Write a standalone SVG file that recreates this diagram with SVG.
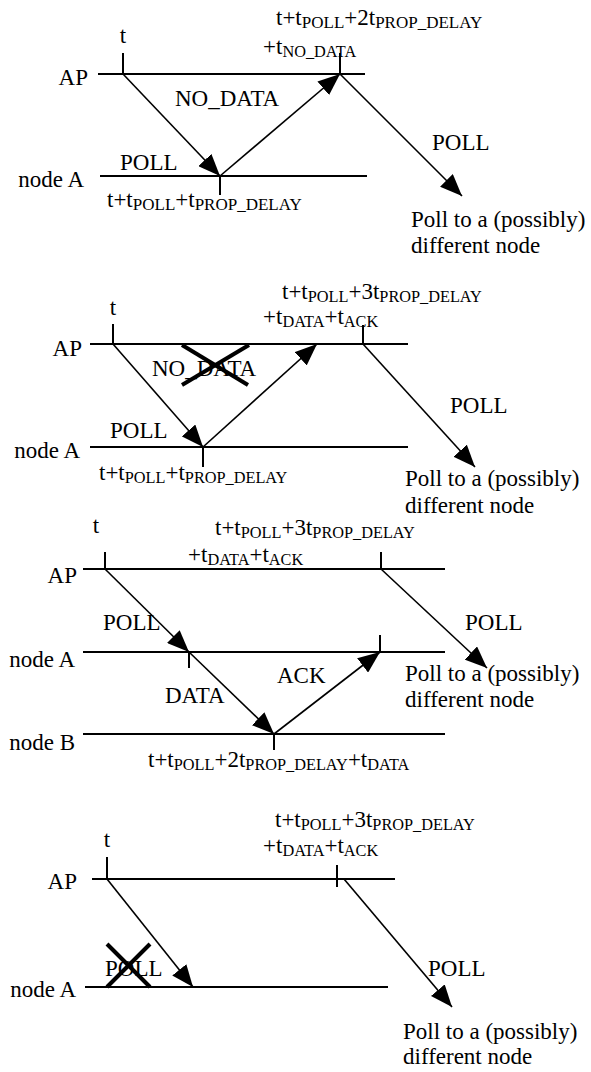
<svg xmlns="http://www.w3.org/2000/svg" width="591" height="1072" viewBox="0 0 591 1072" font-family="Liberation Serif, Times New Roman, serif">
<defs>
<style>
text{font-family:"Liberation Serif","Times New Roman",serif;font-size:23px;fill:#000}
.s{font-size:16.3px}
.s1{font-size:17px}
.e{text-anchor:end}
.c{text-anchor:middle}
.ln{stroke:#000;stroke-width:2;fill:none}
.ar{stroke:#000;stroke-width:1.6;fill:none;marker-end:url(#ah)}
.x{stroke:#000;stroke-width:4;fill:none}
</style>
<marker id="ah" markerUnits="userSpaceOnUse" markerWidth="22" markerHeight="18" refX="22" refY="9" orient="auto">
<path d="M0,0 L22,9 L0,18 z" fill="#000"/>
</marker>
</defs>
<rect width="591" height="1072" fill="#fff"/>

<!-- Panel 1 -->
<g id="p1-ap">
<text x="88" y="85" class="e">AP</text>
<line class="ln" x1="98" y1="74" x2="365" y2="74"/>
<line class="ln" x1="123" y1="53" x2="123" y2="74"/>
<line class="ln" x1="340" y1="53" x2="340" y2="74"/>
<text x="123" y="43" class="c">t</text>
<text x="276" y="25">t+t<tspan class="s1" dy="3">POLL</tspan><tspan dy="-3">+2t</tspan><tspan class="s1" dy="3">PROP_DELAY</tspan></text>
<text x="263" y="54">+t<tspan class="s" dy="3">NO_DATA</tspan></text>
</g>
<g id="p1-nodeA">
<text x="84" y="187" class="e">node A</text>
<line class="ln" x1="100" y1="176" x2="367" y2="176"/>
<line class="ln" x1="220" y1="176" x2="220" y2="195"/>
<text x="107" y="207">t+t<tspan class="s1" dy="3">POLL</tspan><tspan dy="-3">+t</tspan><tspan class="s1" dy="3">PROP_DELAY</tspan></text>
</g>
<g id="p1-other">
<text x="411" y="227">Poll to a (possibly)</text>
<text x="411" y="253">different node</text>
</g>
<g id="p1-connectors">
<line class="ar" x1="123" y1="74" x2="220" y2="176"/>
<line class="ar" x1="220" y1="176" x2="340" y2="74"/>
<line class="ar" x1="340" y1="74" x2="462" y2="196"/>
<text x="175" y="106">NO_DATA</text>
<text x="120" y="170">POLL</text>
<text x="432" y="150">POLL</text>
</g>

<!-- Panel 2 -->
<g id="p2-ap">
<text x="82" y="356" class="e">AP</text>
<line class="ln" x1="90" y1="344" x2="408" y2="344"/>
<line class="ln" x1="113" y1="324" x2="113" y2="344"/>
<line class="ln" x1="363" y1="325" x2="363" y2="344"/>
<text x="113" y="315" class="c">t</text>
<text x="282" y="299">t+t<tspan class="s" dy="3">POLL</tspan><tspan dy="-3">+3t</tspan><tspan class="s" dy="3">PROP_DELAY</tspan></text>
<text x="263" y="324">+t<tspan class="s" dy="3">DATA</tspan><tspan dy="-3">+t</tspan><tspan class="s" dy="3">ACK</tspan></text>
</g>
<g id="p2-nodeA">
<text x="80" y="458" class="e">node A</text>
<line class="ln" x1="90" y1="447" x2="408" y2="447"/>
<line class="ln" x1="203" y1="447" x2="203" y2="467"/>
<text x="99" y="480">t+t<tspan class="s" dy="3">POLL</tspan><tspan dy="-3">+t</tspan><tspan class="s" dy="3">PROP_DELAY</tspan></text>
</g>
<g id="p2-other">
<text x="405" y="486">Poll to a (possibly)</text>
<text x="405" y="513">different node</text>
</g>
<g id="p2-connectors">
<line class="ar" x1="113" y1="344" x2="203" y2="447"/>
<line class="ar" x1="203" y1="447" x2="317" y2="344"/>
<line class="ar" x1="363" y1="344" x2="475" y2="467"/>
<text x="152" y="376">NO_DATA</text>
<line class="x" x1="182" y1="345" x2="248" y2="385"/>
<line class="x" x1="249" y1="345" x2="182" y2="385"/>
<text x="110" y="438">POLL</text>
<text x="450" y="413">POLL</text>
</g>

<!-- Panel 3 -->
<g id="p3-ap">
<text x="77" y="583" class="e">AP</text>
<line class="ln" x1="83" y1="569" x2="445" y2="569"/>
<line class="ln" x1="105" y1="552" x2="105" y2="569"/>
<line class="ln" x1="381" y1="552" x2="381" y2="569"/>
<text x="96" y="533" class="c">t</text>
<text x="215" y="535">t+t<tspan class="s" dy="3">POLL</tspan><tspan dy="-3">+3t</tspan><tspan class="s" dy="3">PROP_DELAY</tspan></text>
<text x="188" y="562">+t<tspan class="s" dy="3">DATA</tspan><tspan dy="-3">+t</tspan><tspan class="s" dy="3">ACK</tspan></text>
</g>
<g id="p3-nodeA">
<text x="75" y="667" class="e">node A</text>
<line class="ln" x1="83" y1="652" x2="445" y2="652"/>
<line class="ln" x1="189" y1="652" x2="189" y2="668"/>
<line class="ln" x1="380" y1="635" x2="380" y2="652"/>
</g>
<g id="p3-nodeB">
<text x="75" y="750" class="e">node B</text>
<line class="ln" x1="83" y1="734" x2="445" y2="734"/>
<line class="ln" x1="274" y1="734" x2="274" y2="750"/>
<text x="148" y="767">t+t<tspan class="s" dy="3">POLL</tspan><tspan dy="-3">+2t</tspan><tspan class="s" dy="3">PROP_DELAY</tspan><tspan dy="-3">+t</tspan><tspan class="s" dy="3">DATA</tspan></text>
</g>
<g id="p3-other">
<text x="405" y="681">Poll to a (possibly)</text>
<text x="405" y="707">different node</text>
</g>
<g id="p3-connectors">
<line class="ar" x1="105" y1="569" x2="189" y2="652"/>
<line class="ar" x1="189" y1="652" x2="274" y2="734"/>
<line class="ar" x1="274" y1="734" x2="380" y2="652"/>
<line class="ar" x1="381" y1="569" x2="487" y2="668"/>
<text x="103" y="630">POLL</text>
<text x="165" y="703">DATA</text>
<text x="277" y="683">ACK</text>
<text x="465" y="630">POLL</text>
</g>

<!-- Panel 4 -->
<g id="p4-ap">
<text x="77" y="889" class="e">AP</text>
<line class="ln" x1="92" y1="879" x2="395" y2="879"/>
<line class="ln" x1="107" y1="857" x2="107" y2="879"/>
<line class="ln" x1="337" y1="865" x2="337" y2="887"/>
<text x="107" y="847" class="c">t</text>
<text x="275" y="827">t+t<tspan class="s" dy="3">POLL</tspan><tspan dy="-3">+3t</tspan><tspan class="s" dy="3">PROP_DELAY</tspan></text>
<text x="263" y="853">+t<tspan class="s" dy="3">DATA</tspan><tspan dy="-3">+t</tspan><tspan class="s" dy="3">ACK</tspan></text>
</g>
<g id="p4-nodeA">
<text x="76" y="997" class="e">node A</text>
<line class="ln" x1="85" y1="987" x2="388" y2="987"/>
</g>
<g id="p4-other">
<text x="403" y="1039">Poll to a (possibly)</text>
<text x="403" y="1064">different node</text>
</g>
<g id="p4-connectors">
<line class="ar" x1="107" y1="879" x2="193" y2="987"/>
<line class="ar" x1="344" y1="879" x2="452" y2="1007"/>
<text x="105" y="976">POLL</text>
<line class="x" x1="107" y1="944" x2="150" y2="987"/>
<line class="x" x1="150" y1="944" x2="107" y2="987"/>
<text x="428" y="976">POLL</text>
</g>
</svg>
